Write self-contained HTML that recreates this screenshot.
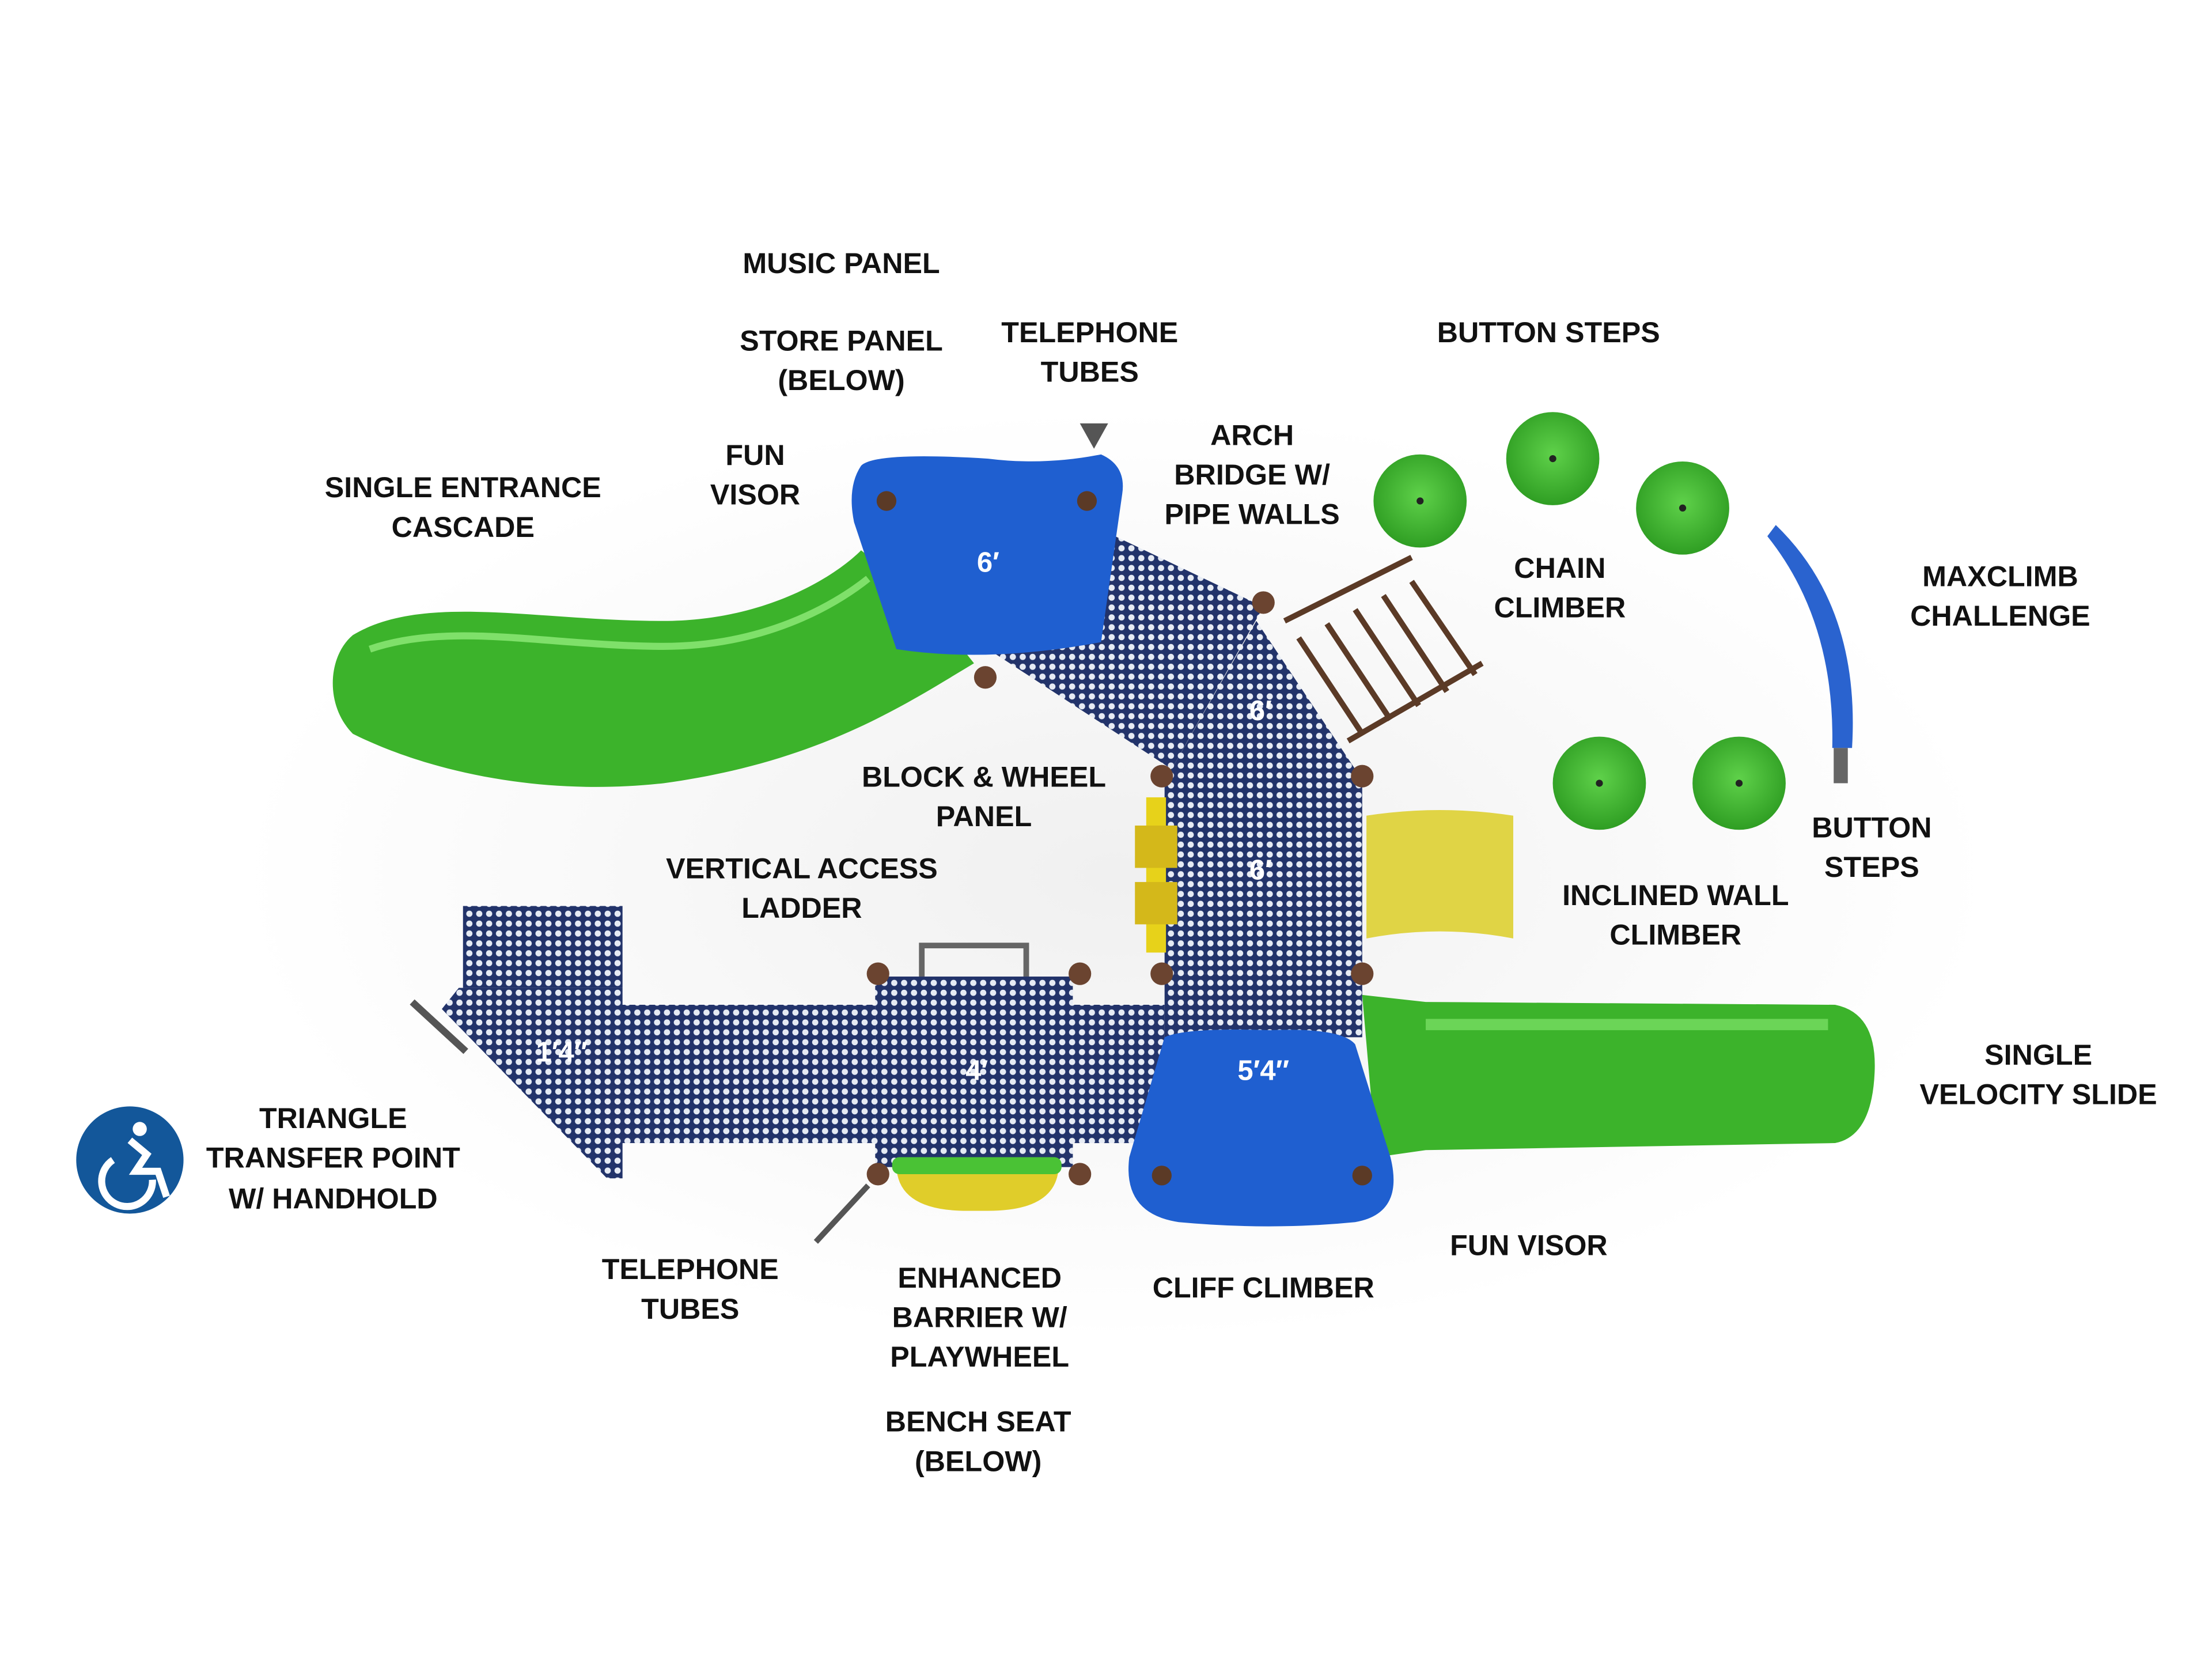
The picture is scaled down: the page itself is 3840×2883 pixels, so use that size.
<!DOCTYPE html>
<html><head><meta charset="utf-8"><style>
html,body{margin:0;padding:0;background:#fff;}
svg{display:block;}
text{font-family:"Liberation Sans",sans-serif;font-weight:bold;font-size:20.5px;fill:#111;text-anchor:middle;dominant-baseline:middle;}
.d{fill:#fff;font-size:20px;}
</style></head><body>
<svg width="3840" height="2883" viewBox="0 0 1567 1177" preserveAspectRatio="none" xmlns="http://www.w3.org/2000/svg">
<defs>
<pattern id="dots" width="7" height="7" patternUnits="userSpaceOnUse">
<rect width="7" height="7" fill="#22336a"/><circle cx="3.5" cy="3.5" r="2.2" fill="#e6ebf4"/>
</pattern>
<radialGradient id="bs" cx="50%" cy="45%" r="55%"><stop offset="0" stop-color="#5fd14a"/><stop offset="1" stop-color="#2f9e23"/></radialGradient>
<radialGradient id="sh" cx="50%" cy="50%" r="50%"><stop offset="0" stop-color="#f0f0f0"/><stop offset="1" stop-color="#fff"/></radialGradient>
</defs>
<rect width="1567" height="1177" fill="#fff"/>
<ellipse cx="790" cy="620" rx="620" ry="330" fill="url(#sh)"/>

<path d="M250,450 C300,420 380,440 470,440 C540,440 590,410 610,390 L650,420 L690,470 C640,500 580,540 470,555 C380,565 300,545 250,520 C230,500 232,465 250,450 Z" fill="#3cb32b"/>
<path d="M262,460 C320,440 390,458 470,458 C540,458 590,430 615,410" stroke="#7fe06a" stroke-width="5" fill="none"/>
<polygon points="700,460 790,380 895,430 830,545" fill="url(#dots)"/>
<polygon points="830,545 890,440 960,545" fill="url(#dots)"/>
<g stroke="#5b3a26" stroke-width="4">
<line x1="910" y1="440" x2="1000" y2="395"/><line x1="955" y1="525" x2="1050" y2="470"/>
<line x1="920" y1="452" x2="965" y2="520"/><line x1="940" y1="442" x2="985" y2="510"/><line x1="960" y1="432" x2="1005" y2="500"/><line x1="980" y1="422" x2="1025" y2="490"/><line x1="1000" y1="412" x2="1045" y2="478"/>
</g>
<path d="M610,330 Q620,320 700,325 Q740,330 780,322 Q798,330 795,350 L780,455 Q700,470 635,460 L605,370 Q600,345 610,330 Z" fill="#1f5fd0"/>
<path d="M765,300 L775,318 L785,300 Z" fill="#555"/>
<text class="d" x="700" y="400">6′</text>
<circle cx="628" cy="355" r="7" fill="#5b3a26"/><circle cx="770" cy="355" r="7" fill="#5b3a26"/>
<rect x="825" y="545" width="140" height="145" fill="url(#dots)"/>
<text class="d" x="893" y="505">6′</text><text class="d" x="893" y="618">6′</text>
<rect x="812" y="565" width="14" height="110" fill="#e7d21a"/>
<rect x="804" y="585" width="30" height="30" fill="#d4b81a"/><rect x="804" y="625" width="30" height="30" fill="#d4b81a"/>
<path d="M968,578 Q1020,570 1072,578 L1072,665 Q1020,655 968,665 Z" fill="#e0d445"/>
<rect x="825" y="690" width="140" height="45" fill="url(#dots)"/>
<rect x="620" y="692" width="140" height="135" fill="url(#dots)"/>
<rect x="440" y="712" width="180" height="98" fill="url(#dots)"/>
<rect x="760" y="712" width="65" height="98" fill="url(#dots)"/>
<rect x="328" y="642" width="113" height="58" fill="url(#dots)"/>
<polygon points="325,700 441,700 441,835 430,835 313,715" fill="url(#dots)"/>
<line x1="292" y1="710" x2="330" y2="745" stroke="#555" stroke-width="5"/>
<path d="M653,692 L653,670 L727,670 L727,692" stroke="#666" stroke-width="4" fill="none"/>
<text class="d" x="398" y="747">1′4″</text><text class="d" x="692" y="760">4′</text>
<path d="M635,825 L750,825 Q750,858 700,858 L685,858 Q635,858 635,825Z" fill="#e0cd2a"/>
<rect x="632" y="820" width="120" height="12" rx="5" fill="#4ac235"/>
<line x1="578" y1="880" x2="615" y2="840" stroke="#555" stroke-width="4"/>
<g fill="#6b4430">
<circle cx="622" cy="690" r="8"/><circle cx="765" cy="690" r="8"/><circle cx="622" cy="832" r="8"/><circle cx="765" cy="832" r="8"/>
<circle cx="823" cy="550" r="8"/><circle cx="965" cy="550" r="8"/><circle cx="823" cy="690" r="8"/><circle cx="965" cy="690" r="8"/>
<circle cx="895" cy="427" r="8"/><circle cx="698" cy="480" r="8"/>
</g>
<path d="M965,705 L1010,710 L1300,712 Q1330,718 1328,760 Q1326,805 1300,810 L1010,815 L975,820 Z" fill="#3cb32b"/>
<rect x="1010" y="722" width="285" height="8" fill="#6bd557"/>
<path d="M825,735 Q840,728 900,730 Q950,728 960,740 L985,820 Q995,860 960,866 Q900,872 835,866 Q795,860 800,820 Z" fill="#1f5fd0"/>
<text class="d" x="895" y="760">5′4″</text>
<circle cx="823" cy="833" r="7" fill="#5b3a26"/><circle cx="965" cy="833" r="7" fill="#5b3a26"/>
<g fill="url(#bs)">
<circle cx="1006" cy="355" r="33"/><circle cx="1100" cy="325" r="33"/><circle cx="1192" cy="360" r="33"/>
<circle cx="1133" cy="555" r="33"/><circle cx="1232" cy="555" r="33"/>
</g>
<g fill="#222"><circle cx="1006" cy="355" r="2.5"/><circle cx="1100" cy="325" r="2.5"/><circle cx="1192" cy="360" r="2.5"/><circle cx="1133" cy="555" r="2.5"/><circle cx="1232" cy="555" r="2.5"/></g>
<path d="M1258,372 Q1318,430 1312,530 L1298,530 Q1300,440 1252,380 Z" fill="#2a63cf"/>
<rect x="1299" y="530" width="10" height="25" fill="#666"/>
<circle cx="92" cy="822" r="38" fill="#13579a"/>
<circle cx="99" cy="800" r="5" fill="#fff"/>
<path d="M80,822 a18,18 0 1,0 28,14" stroke="#fff" stroke-width="5" fill="none"/>
<path d="M92,808 L104,818 L96,830 L112,830 L118,848" stroke="#fff" stroke-width="5" fill="none"/>

<text x="596" y="188">MUSIC PANEL</text>
<text x="596" y="243">STORE PANEL</text><text x="596" y="271">(BELOW)</text>
<text x="772" y="237">TELEPHONE</text><text x="772" y="265">TUBES</text>
<text x="1097" y="237">BUTTON STEPS</text>
<text x="887" y="310">ARCH</text><text x="887" y="338">BRIDGE W/</text><text x="887" y="366">PIPE WALLS</text>
<text x="535" y="324">FUN</text><text x="535" y="352">VISOR</text>
<text x="328" y="347">SINGLE ENTRANCE</text><text x="328" y="375">CASCADE</text>
<text x="1105" y="404">CHAIN</text><text x="1105" y="432">CLIMBER</text>
<text x="1417" y="410">MAXCLIMB</text><text x="1417" y="438">CHALLENGE</text>
<text x="697" y="552">BLOCK &amp; WHEEL</text><text x="697" y="580">PANEL</text>
<text x="1326" y="588">BUTTON</text><text x="1326" y="616">STEPS</text>
<text x="568" y="617">VERTICAL ACCESS</text><text x="568" y="645">LADDER</text>
<text x="1187" y="636">INCLINED WALL</text><text x="1187" y="664">CLIMBER</text>
<text x="1444" y="749">SINGLE</text><text x="1444" y="777">VELOCITY SLIDE</text>
<text x="236" y="794">TRIANGLE</text><text x="236" y="822">TRANSFER POINT</text><text x="236" y="851">W/ HANDHOLD</text>
<text x="1083" y="884">FUN VISOR</text>
<text x="489" y="901">TELEPHONE</text><text x="489" y="929">TUBES</text>
<text x="694" y="907">ENHANCED</text><text x="694" y="935">BARRIER W/</text><text x="694" y="963">PLAYWHEEL</text>
<text x="895" y="914">CLIFF CLIMBER</text>
<text x="693" y="1009">BENCH SEAT</text><text x="693" y="1037">(BELOW)</text>
</svg>
</body></html>
